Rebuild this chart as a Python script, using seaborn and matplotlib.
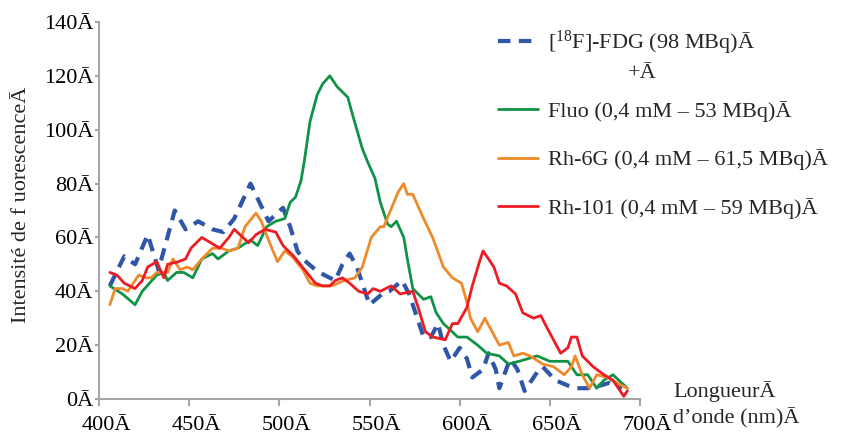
import matplotlib
matplotlib.use("Agg")
import matplotlib.pyplot as plt
import matplotlib.transforms as mtransforms
import seaborn as sns

# values (wavelength nm, intensity)
fdg_x = [406, 414, 420, 427, 433, 442, 448, 455, 463, 469, 475, 484, 489, 494, 502, 506, 510, 513,
         520, 525, 531, 535, 539, 543, 546, 550, 557, 561, 568, 572, 576, 580, 584, 588, 591, 595,
         600, 604, 607, 613, 616, 620, 622, 628, 632, 636, 643, 646, 653, 660, 665, 671, 678, 683, 690]
fdg_y = [42, 53, 50, 61, 48, 70, 63, 66, 63, 62, 67, 80, 73, 66, 71, 64, 55, 52,
         48, 46, 44, 50, 54, 49, 43, 35, 39, 40, 44, 39, 31, 23, 23, 28, 20, 14,
         19, 15, 8, 11, 17, 11, 4, 15, 11, 3, 10, 12, 7, 5, 4, 4, 5, 6, 4]

fluo_x = [406, 413, 420, 424, 428, 432, 436, 438, 443, 447, 452, 457, 463, 466, 472, 477, 484, 488,
          493, 498, 503, 506, 509, 512, 514, 517, 521, 524, 528, 532, 538, 540, 546, 549, 553, 556,
          560, 562, 565, 569, 571, 574, 580, 584, 587, 591, 599, 604, 610, 615, 622, 627, 633, 643,
          650, 660, 665, 671, 676, 680, 685, 693]
fluo_y = [42, 39, 35, 40, 43, 46, 47, 44, 47, 47, 45, 52, 54, 52, 55, 56, 59, 57,
          64, 66, 67, 73, 75, 81, 89, 103, 113, 117, 120, 116, 112, 107, 93, 88, 82, 73,
          65, 64, 66, 60, 52, 41, 37, 38, 32, 28, 23, 23, 20, 17, 16, 13, 14, 16,
          14, 14, 9, 9, 4, 7, 9, 4]

rh6g_x = [406, 409, 413, 416, 422, 426, 429, 432, 438, 441, 445, 449, 452, 457, 463, 468, 472, 477,
          481, 487, 490, 494, 499, 503, 507, 513, 517, 521, 529, 536, 542, 546, 551, 556, 558, 561,
          566, 569, 571, 574, 580, 585, 591, 596, 601, 604, 606, 610, 614, 618, 622, 627, 630, 635,
          639, 646, 652, 658, 662, 664, 668, 672, 676, 682, 687, 693]
rh6g_y = [35, 41, 41, 40, 46, 45, 45, 47, 47, 52, 48, 49, 48, 52, 56, 56, 55, 56,
          64, 69, 66, 59, 51, 55, 53, 48, 43, 42, 42, 44, 45, 49, 60, 64, 64, 69,
          77, 80, 76, 76, 67, 60, 49, 45, 43, 36, 30, 25, 30, 25, 20, 21, 16, 17,
          16, 13, 12, 9, 12, 16, 9, 4, 9, 8, 6, 4]

rh101_x = [406, 410, 414, 420, 424, 427, 432, 436, 438, 444, 448, 451, 457, 462, 467, 472, 475, 483,
           487, 492, 498, 502, 508, 514, 520, 524, 528, 531, 535, 539, 544, 549, 552, 556, 562, 567,
           574, 577, 581, 585, 592, 596, 599, 604, 607, 611, 613, 619, 622, 626, 631, 635, 641, 645,
           648, 656, 660, 662, 665, 668, 674, 680, 685, 691, 693]
rh101_y = [47, 46, 43, 41, 44, 49, 51, 45, 50, 51, 52, 56, 60, 58, 56, 60, 63, 58,
           61, 63, 62, 57, 53, 48, 43, 42, 42, 44, 45, 43, 40, 39, 41, 40, 42, 39,
           40, 34, 25, 23, 22, 28, 28, 34, 42, 51, 55, 49, 43, 42, 39, 32, 30, 31,
           27, 17, 19, 23, 23, 16, 12, 9, 7, 1, 3]

x_ticks = [400, 450, 500, 550, 600, 650, 700]
y_ticks = [0, 20, 40, 60, 80, 100, 120, 140]

labels = ["[$\\mathregular{^{18}}$F]-FDG (98 MBq)Ā",
          "Fluo (0,4 mM – 53 MBq)Ā",
          "Rh-6G (0,4 mM – 61,5 MBq)Ā",
          "Rh-101 (0,4 mM – 59 MBq)Ā"]
colors = ["#2f56a8", "#109346", "#ee8a2a", "#ed1c24"]

sns.set_theme(style="white")
plt.rcParams["font.family"] = ["Liberation Serif", "DejaVu Serif"]
plt.rcParams["mathtext.fontset"] = "custom"
plt.rcParams["mathtext.rm"] = "Liberation Serif"
fs = 16
grey = "#a6a6a6"

fig = plt.figure(figsize=(8.48, 4.36), dpi=100)
ax = fig.add_axes([99 / 848, 37 / 436, 541 / 848, 377 / 436])

sns.lineplot(x=fdg_x, y=fdg_y, ax=ax, color=colors[0], lw=3, ls=(0, (3, 2)))
sns.lineplot(x=fluo_x, y=fluo_y, ax=ax, color=colors[1], lw=2.0)
sns.lineplot(x=rh6g_x, y=rh6g_y, ax=ax, color=colors[2], lw=2.0)
sns.lineplot(x=rh101_x, y=rh101_y, ax=ax, color=colors[3], lw=2.0)

ax.set_xlim(400, 700)
ax.set_ylim(0, 140)
ax.set_xticks(x_ticks)
ax.set_xticklabels([f"{v}Ā" for v in x_ticks], fontsize=fs)
ax.set_yticks(y_ticks)
ax.set_yticklabels([f"{v}Ā" for v in y_ticks], fontsize=fs)
ax.tick_params(axis="both", colors=grey, labelcolor="black", direction="out", width=1.5)
ax.tick_params(axis="x", length=5, pad=7)
ax.tick_params(axis="y", length=3, pad=1)
ax.xaxis.set_ticks_position("bottom")
ax.yaxis.set_ticks_position("left")
for s in ["top", "right"]:
    ax.spines[s].set_visible(False)
for s in ["left", "bottom"]:
    ax.spines[s].set_color(grey)
    ax.spines[s].set_linewidth(1.5)

# excel centres the labels a bit to the right of the ticks
shift = mtransforms.ScaledTranslation(7 / 100, 0, fig.dpi_scale_trans)
for lab in ax.get_xticklabels():
    lab.set_transform(lab.get_transform() + shift)

fig.text(22 / 848, 1 - 205 / 436, "Intensité de f uorescenceĀ", rotation=90,
         ha="center", va="center", fontsize=fs)
fig.text(673 / 848, 1 - 392 / 436, "LongueurĀ", ha="left", va="center", fontsize=fs)
fig.text(673 / 848, 1 - 418 / 436, "d’onde (nm)Ā", ha="left", va="center", fontsize=fs)

lines = ax.get_lines()
leg1 = ax.legend([lines[0]], [labels[0]], loc="center left",
                 bbox_to_anchor=(498 / 848, 1 - 43 / 436), bbox_transform=fig.transFigure,
                 frameon=False, fontsize=fs, handlelength=1.8, handletextpad=0.45,
                 borderpad=0, borderaxespad=0)
ax.add_artist(leg1)
ax.legend(lines[1:], labels[1:], loc="center left",
          bbox_to_anchor=(498 / 848, 1 - 160 / 436), bbox_transform=fig.transFigure,
          frameon=False, fontsize=fs, handlelength=1.8, handletextpad=0.45,
          borderpad=0, borderaxespad=0, labelspacing=1.25)
fig.text(628 / 848, 1 - 73 / 436, "+Ā", ha="left", va="center", fontsize=fs)

fig.savefig("out.png", dpi=100)
